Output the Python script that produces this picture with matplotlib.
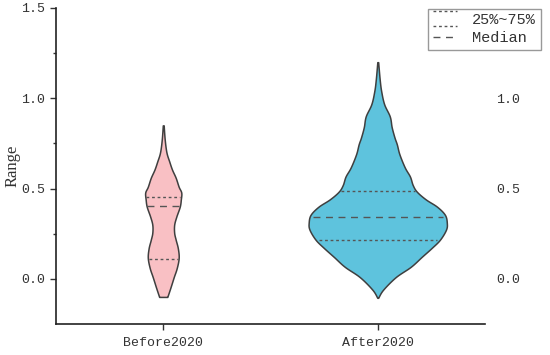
import numpy as np
import matplotlib
matplotlib.use("Agg")
import matplotlib.pyplot as plt
from matplotlib.lines import Line2D
from matplotlib.legend_handler import HandlerBase

# categories and their violin outlines (value, half width)
groups = ["Before2020", "After2020"]
colors = ["#f9c0c4", "#5ec3dd"]

before_y = [-0.10, -0.05, 0.01, 0.06, 0.117, 0.17, 0.217, 0.255, 0.30, 0.345,
            0.40, 0.44, 0.478, 0.51, 0.56, 0.605, 0.65, 0.70, 0.77, 0.85]
before_w = [0.019, 0.033, 0.049, 0.063, 0.072, 0.068, 0.058, 0.051, 0.051, 0.061,
            0.077, 0.082, 0.084, 0.072, 0.058, 0.041, 0.028, 0.015, 0.007, 0.002]

after_y = [-0.105, -0.06, 0.01, 0.067, 0.122, 0.172, 0.217, 0.272, 0.31, 0.355,
           0.40, 0.44, 0.483, 0.52, 0.567, 0.617, 0.69, 0.745, 0.783, 0.84,
           0.90, 0.967, 1.04, 1.105, 1.20]
after_w = [0.002, 0.025, 0.084, 0.154, 0.205, 0.252, 0.290, 0.318, 0.322, 0.313,
           0.276, 0.224, 0.182, 0.163, 0.150, 0.126, 0.101, 0.089, 0.078, 0.065,
           0.056, 0.030, 0.016, 0.009, 0.002]

# quartiles and medians
q1 = [0.11, 0.217]
median = [0.405, 0.34]
q3 = [0.455, 0.485]

profiles = [(before_y, before_w), (after_y, after_w)]
positions = [1, 2]


def smooth(y, w, n=12):
    # catmull-rom curve through the read points, only for a rounder outline
    p = np.column_stack([y, w])
    p = np.vstack([p[0], p, p[-1]])
    out = []
    t = np.linspace(0, 1, n, endpoint=False)[:, None]
    for i in range(1, len(p) - 2):
        p0, p1, p2, p3 = p[i - 1], p[i], p[i + 1], p[i + 2]
        seg = 0.5 * ((2 * p1) + (-p0 + p2) * t + (2 * p0 - 5 * p1 + 4 * p2 - p3) * t ** 2
                     + (-p0 + 3 * p1 - 3 * p2 + p3) * t ** 3)
        out.append(seg)
    out.append(p[-2][None, :])
    out = np.vstack(out)
    return out[:, 0], np.clip(out[:, 1], 0, None)


class TwoLineHandler(HandlerBase):
    # two dotted lines stacked, like the reference legend
    def create_artists(self, legend, orig_handle, xdescent, ydescent,
                       width, height, fontsize, trans):
        arts = []
        for dy in (height * 1.2, -height * 0.2):
            ln = Line2D([0, width], [dy, dy], color="#555555", lw=1,
                        linestyle=(0, (2, 2)), transform=trans)
            arts.append(ln)
        return arts


fig = plt.figure(figsize=(5.5, 3.55), dpi=100)
ax = fig.add_axes([0.1018, 0.0873, 0.78, 0.8902])

for pos, (yy, ww), c, a, m, b in zip(positions, profiles, colors, q1, median, q3):
    ys, ws = smooth(yy, ww)
    ax.fill_betweenx(ys, pos - ws, pos + ws, facecolor=c, edgecolor="#3f3f3f", lw=1.1)
    for val, ls in ((a, (0, (2, 2))), (b, (0, (2, 2))), (m, (0, (5, 4)))):
        hw = np.interp(val, ys, ws) * 0.95
        ax.plot([pos - hw, pos + hw], [val, val], color="#555555", lw=1, linestyle=ls)

ax.set_xlim(0.5, 2.5)
ax.set_ylim(-0.25, 1.5)
ax.set_xticks(positions)
ax.set_xticklabels(groups, family="Liberation Mono", fontsize=9.5)
ax.set_yticks([0.0, 0.5, 1.0, 1.5])
ax.set_yticklabels(["0.0", "0.5", "1.0", "1.5"], family="Liberation Mono", fontsize=9.5)
ax.set_yticks([0.25, 0.75, 1.25], minor=True)
ax.tick_params(axis="y", which="major", length=4, width=1, pad=4, colors="#333333")
ax.tick_params(axis="y", which="minor", length=2, width=1, colors="#333333")
ax.tick_params(axis="x", length=4, width=1, pad=5, colors="#333333")
ax.set_ylabel("Range", family="Liberation Serif", fontsize=12, color="#333333", labelpad=0)
for s in ["top", "right"]:
    ax.spines[s].set_visible(False)
for s in ["left", "bottom"]:
    ax.spines[s].set_linewidth(1.2)
    ax.spines[s].set_color("#222222")

# right side labels without a spine
ax2 = ax.twinx()
ax2.set_ylim(ax.get_ylim())
ax2.set_yticks([0.0, 0.5, 1.0])
ax2.set_yticklabels(["0.0", "0.5", "1.0"], family="Liberation Mono", fontsize=9.5)
ax2.tick_params(axis="y", length=0, pad=8, colors="#333333")
for s in ax2.spines.values():
    s.set_visible(False)

h1 = Line2D([], [])
h2 = Line2D([], [], color="#555555", lw=1, linestyle=(0, (5, 4)))
leg = fig.legend([h1, h2], ["25%~75%", "Median"], loc="upper right",
                 bbox_to_anchor=(0.997, 0.997), handler_map={h1: TwoLineHandler()},
                 prop={"family": "Liberation Mono", "size": 11}, fancybox=False,
                 handlelength=1.6, handletextpad=1.0, labelspacing=0.25,
                 borderpad=0.3, framealpha=1)
leg.get_frame().set_edgecolor("#999999")
leg.get_frame().set_linewidth(1)
for t in leg.get_texts():
    t.set_color("#333333")

fig.savefig("out.png", dpi=100)
